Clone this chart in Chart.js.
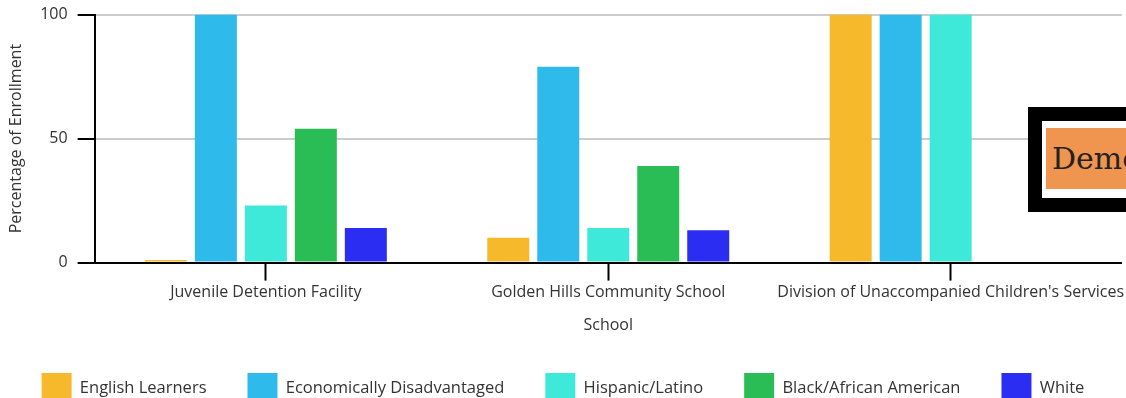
<!DOCTYPE html>
<html>
<head>
<meta charset="utf-8">
<script src="https://cdn.jsdelivr.net/npm/chart.js@4/dist/chart.umd.min.js"></script>
<style>
  html, body { margin: 0; padding: 0; background: #fff; overflow: hidden; }
  #wrap { position: relative; width: 1126px; height: 398px; overflow: hidden; }
  #box { position: absolute; width: 1126px; height: 418px; left: 0; top: -5px; }
  #demo {
    position: absolute; left: 1028px; top: 107px;
    border: 14px solid #000; background: #fff;
    padding: 7px 4px 9px 4px; white-space: nowrap;
  }
  #demo span {
    display: block; background: #f0954f; color: #222;
    font-family: "DejaVu Serif", serif; font-size: 30px;
    line-height: 61px; padding: 0 6px; width: 200px;
  }
</style>
</head>
<body>
<div id="wrap">
  <div id="box"><canvas id="enrollChart"></canvas></div>
  <div id="demo"><span>Demo</span></div>
</div>
<script>
// chart data
const schools = ['Juvenile Detention Facility', 'Golden Hills Community School', "Division of Unaccompanied Children's Services"];
const englishLearners = [1, 10, 100];
const econDisadvantaged = [100, 79, 100];
const hispanicLatino = [23, 14, 100];
const blackAfricanAmerican = [54, 39, 0];
const white = [14, 13, 0];
const yTicks = [0, 50, 100];

const fontFamily = '"Open Sans", "Noto Sans", sans-serif';

function makeSet(label, data, color) {
    return {
        label: label,
        data: data,
        backgroundColor: color,
        borderWidth: 0,
        categoryPercentage: 0.73,
        barPercentage: 0.84
    };
}

const ctx = document.getElementById('enrollChart').getContext('2d');
const chart = new Chart(ctx, {
    type: 'bar',
    data: {
        labels: schools,
        datasets: [
            makeSet('English Learners', englishLearners, '#f6b92b'),
            makeSet('Economically Disadvantaged', econDisadvantaged, '#2ebbec'),
            makeSet('Hispanic/Latino', hispanicLatino, '#3fe9d9'),
            makeSet('Black/African American', blackAfricanAmerican, '#2bbd55'),
            makeSet('White', white, '#2c2df3')
        ]
    },
    options: {
        responsive: true,
        maintainAspectRatio: false,
        animation: false,
        layout: { padding: { top: 3, right: 0, left: 0, bottom: 0 } },
        scales: {
            x: {
                grid: {
                    drawOnChartArea: false,
                    offset: false,
                    tickColor: '#000',
                    tickLength: 18,
                    tickWidth: 2
                },
                border: { color: '#000', width: 2 },
                ticks: { color: '#333', font: { family: fontFamily, size: 16 }, padding: 2, maxRotation: 0, autoSkip: false },
                // negative bottom padding lets the title sit a little lower
                title: { display: true, text: 'School', color: '#333', font: { family: fontFamily, size: 16 }, padding: { top: 12, bottom: -3 } }
            },
            y: {
                min: 0,
                max: 100,
                afterBuildTicks: function(axis) {
                    axis.ticks = yTicks.map(v => ({ value: v }));
                },
                grid: {
                    color: '#cccccc',
                    lineWidth: 2,
                    tickColor: '#000',
                    tickLength: 17,
                    tickWidth: 2
                },
                border: { color: '#000', width: 2 },
                ticks: { color: '#333', font: { family: fontFamily, size: 16 }, padding: 10 },
                title: { display: true, text: 'Percentage of Enrollment', color: '#333', font: { family: fontFamily, size: 16 }, padding: { top: 7, bottom: 4 } }
            }
        },
        plugins: {
            legend: {
                position: 'bottom',
                labels: {
                    boxWidth: 30,
                    boxHeight: 30,
                    padding: 41,
                    color: '#333',
                    font: { family: fontFamily, size: 16.5 }
                }
            },
            tooltip: { enabled: false }
        }
    }
});
</script>
</body>
</html>
